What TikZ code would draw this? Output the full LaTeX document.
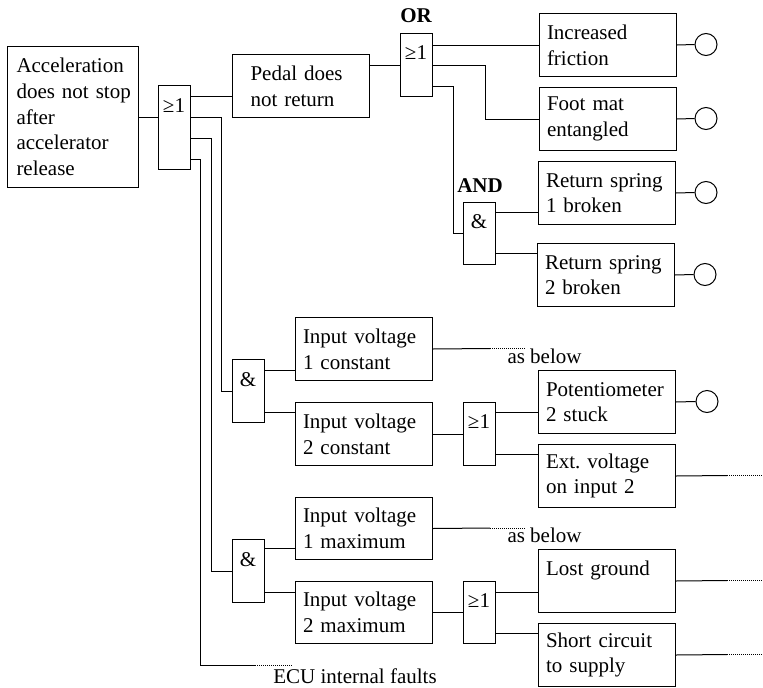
\documentclass[tikz,border=0pt]{standalone}
\usepackage{fontspec}
\setmainfont{Liberation Serif}
\newcommand\dfont{\fontsize{21}{25.7}\selectfont\frenchspacing}
\begin{document}
\begin{tikzpicture}[x=1pt,y=-1pt,line width=1pt,
  box/.style={draw,rectangle,anchor=north west,minimum width=137pt,minimum height=63pt,text width=122pt,inner xsep=7.5pt,inner ysep=0pt,align=left,font=\dfont},
  gate/.style={draw,rectangle,anchor=north west,minimum width=32pt,inner sep=0pt},
  gsym/.style={anchor=base,inner sep=0pt,font=\dfont},
  lbl/.style={anchor=base,inner sep=0pt,font=\dfont\bfseries},
  note/.style={inner sep=0pt,font=\dfont},
  circ/.style={draw,circle,minimum size=22pt,inner sep=0pt},
  dotline/.style={dash pattern=on 1pt off 1pt,line width=0.8pt}]
\useasboundingbox (0,0) rectangle (763,688);

% top event
\node[box,minimum width=131pt,minimum height=141pt,text width=113pt,inner xsep=9pt] (top) at (7,46) {\mbox{Acceleration}\\\mbox{does not stop}\\after\\\mbox{accelerator}\\release};

% gates
\node[gate,minimum height=84pt] (g1) at (158,85) {};
\node[gsym] (g1s) at (174,112) {≥1};
\node[gate,minimum height=63pt] (g2) at (400,33) {};
\node[gsym] (g2s) at (416,59) {≥1};
\node[lbl] (orl) at (416,22) {OR};
\node[gate,minimum height=62pt] (a1) at (463,202) {};
\node[gsym] (a1s) at (479,228) {\&};
\node[lbl] (andl) at (480,192) {AND};
\node[gate,minimum height=63pt] (a2) at (232,359) {};
\node[gsym] (a2s) at (248,386) {\&};
\node[gate,minimum height=63pt] (o3) at (463,402) {};
\node[gsym] (o3s) at (479,428) {≥1};
\node[gate,minimum height=63pt] (a3) at (232,539) {};
\node[gsym] (a3s) at (248,566) {\&};
\node[gate,minimum height=62pt] (o4) at (463,581) {};
\node[gsym] (o4s) at (479,607) {≥1};

% boxes
\node[box,text width=101pt,inner xsep=18pt] (pedal) at (232,54) {Pedal does\\not return};
\node[box] (if) at (539,13) {Increased\\friction};
\node[box] (fm) at (539,87) {Foot mat\\entangled};
\node[box] (rs1) at (538,161) {Return spring\\1 broken};
\node[box] (rs2) at (537,243) {Return spring\\2 broken};
\node[box] (iv1c) at (295,317) {Input voltage\\1 constant};
\node[box] (iv2c) at (295,402) {Input voltage\\2 constant};
\node[box] (pot) at (538,370) {\mbox{Potentiometer}\\2 stuck};
\node[box] (ext) at (538,444) {Ext. voltage\\on input 2};
\node[box,minimum height=62pt] (iv1m) at (295,497) {Input voltage\\1 maximum};
\node[box,minimum height=62pt] (iv2m) at (295,581) {Input voltage\\2 maximum};
\node[box] (lost) at (538,549) {Lost ground\\\mbox{}};
\node[box] (short) at (538,623) {Short circuit\\to supply};

% basic-event circles
\node[circ] (cif) at (706,44.5) {};
\node[circ] (cfm) at (706,118.5) {};
\node[circ] (crs1) at (706,192.5) {};
\node[circ] (crs2) at (705,274.5) {};
\node[circ] (cpot) at (707,401.5) {};

% notes
\node[note,anchor=base west] (ab1) at (507,363) {as below};
\node[note,anchor=base west] (ab2) at (507,542) {as below};
\node[note,anchor=base] (ecu) at (355,683) {ECU internal faults};

% free ends
\coordinate (e1a) at (490,348.5); \coordinate (e1b) at (525,348.5);
\coordinate (e2a) at (490,528); \coordinate (e2b) at (525,528);
\coordinate (e3a) at (727,475.5); \coordinate (e3b) at (762,475.5);
\coordinate (e4a) at (727,580.5); \coordinate (e4b) at (762,580.5);
\coordinate (e5a) at (727,654.5); \coordinate (e5b) at (762,654.5);
\coordinate (e6a) at (255,665); \coordinate (e6b) at (293,665);

% connectors
\draw (top.east) -- (top.east -| g1.west);
\draw (g1.east |- 0,96) -- (pedal.west |- 0,96);
\draw (g1.east |- 0,117) -- (221,117) |- (a2.west);
\draw (g1.east |- 0,138) -- (211,138) |- (a3.west);
\draw (g1.east |- 0,159) -- (200,159) |- (e6a);
\draw[dotline] (e6a) -- (e6b);

\draw (pedal.east |- 0,65) -- (g2.west |- 0,65);
\draw (g2.east |- if.west) -- (if.west);
\draw (g2.east |- 0,65) -- (485,65) |- (fm.west);
\draw (g2.east |- 0,86) -- (453,86) |- (a1.west);
\draw (a1.east |- 0,212) -- (rs1.west |- 0,212);
\draw (a1.east |- 0,253) -- (rs2.west |- 0,253);

\draw (if.east) -- (cif.west);
\draw (fm.east) -- (cfm.west);
\draw (rs1.east) -- (crs1.west);
\draw (rs2.east) -- (crs2.west);
\draw (pot.east) -- (cpot.west);

\draw (a2.east |- 0,370) -- (iv1c.west |- 0,370);
\draw (a2.east |- 0,412) -- (iv2c.west |- 0,412);
\draw (iv1c.east) -- (e1a);
\draw[dotline] (e1a) -- (e1b);
\draw (iv2c.east) -- (o3.west);
\draw (o3.east |- 0,412) -- (pot.west |- 0,412);
\draw (o3.east |- 0,454) -- (ext.west |- 0,454);
\draw (ext.east) -- (e3a);
\draw[dotline] (e3a) -- (e3b);

\draw (a3.east |- 0,548) -- (iv1m.west |- 0,548);
\draw (a3.east |- 0,592) -- (iv2m.west |- 0,592);
\draw (iv1m.east) -- (e2a);
\draw[dotline] (e2a) -- (e2b);
\draw (iv2m.east) -- (o4.west);
\draw (o4.east |- 0,592) -- (lost.west |- 0,592);
\draw (o4.east |- 0,633) -- (short.west |- 0,633);
\draw (lost.east) -- (e4a);
\draw[dotline] (e4a) -- (e4b);
\draw (short.east) -- (e5a);
\draw[dotline] (e5a) -- (e5b);
\end{tikzpicture}
\end{document}
